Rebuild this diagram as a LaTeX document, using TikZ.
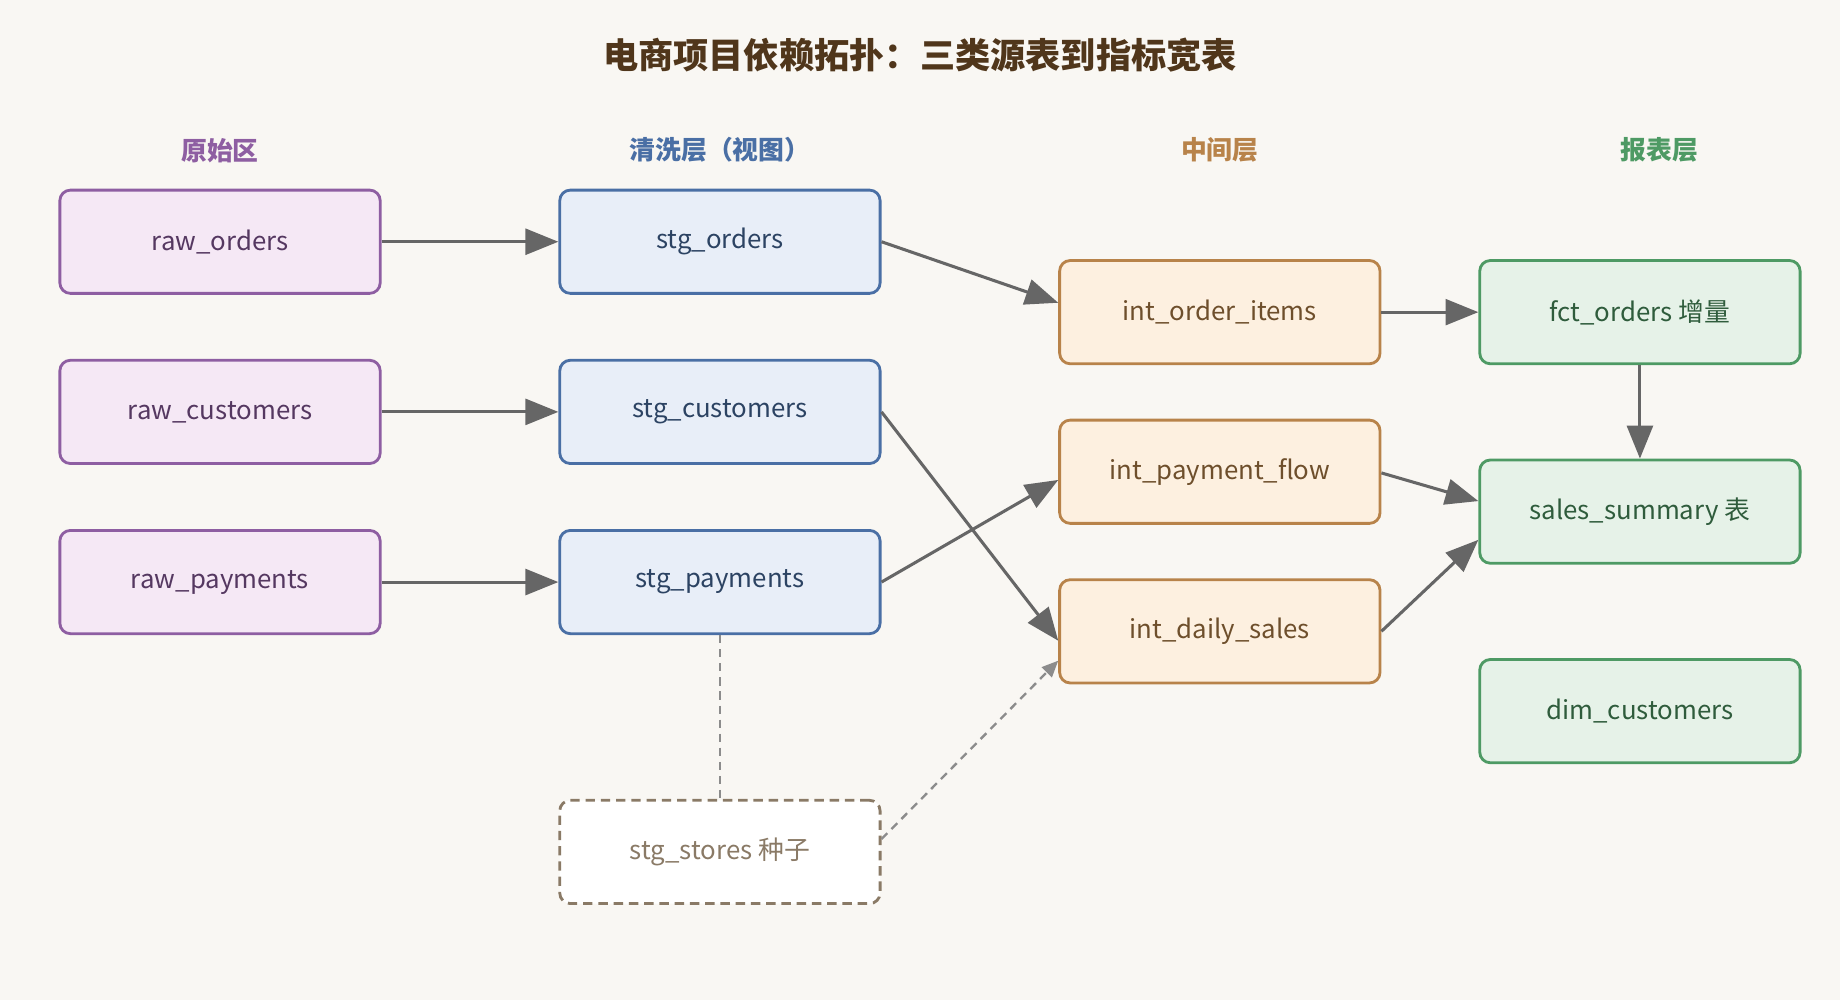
\documentclass[tikz,border=0pt]{standalone}
\usepackage{fontspec}
\setmainfont{Noto Sans CJK SC}
\usetikzlibrary{positioning,arrows.meta}
\definecolor{bgc}{HTML}{F9F7F3}
\definecolor{rawc}{HTML}{8E5EA2}\definecolor{rawf}{HTML}{F5E8F5}
\definecolor{stgc}{HTML}{4A6FA5}\definecolor{stgf}{HTML}{E8EEF8}
\definecolor{intc}{HTML}{B8834A}\definecolor{intf}{HTML}{FDF0E0}
\definecolor{rptc}{HTML}{4E9A64}\definecolor{rptf}{HTML}{E6F2E8}
\definecolor{seedc}{HTML}{8A7A66}
\tikzset{
x=1pt, y=-1pt,
box/.style={draw, line width=2.4pt, rounded corners=9pt, minimum width=273pt, minimum height=88pt, font=\fontsize{22}{26}\selectfont},
raw/.style={box, draw=rawc, fill=rawf, text=rawc!60!black},
stg/.style={box, draw=stgc, fill=stgf, text=stgc!60!black},
int/.style={box, draw=intc, fill=intf, text=intc!60!black},
rpt/.style={box, draw=rptc, fill=rptf, text=rptc!60!black},
seed/.style={box, draw=seedc, fill=white, dashed, dash pattern=on 8pt off 5pt, text=seedc},
head/.style={font=\fontsize{22}{26}\selectfont\bfseries},
link/.style={-{Triangle[length=28pt,width=22pt]}, draw=black!60, line width=2.6pt},
dep/.style={draw=black!45, line width=2pt, dash pattern=on 7pt off 5pt},
}
\begin{document}
\begin{tikzpicture}
\fill[bgc] (0,0) rectangle (1568,852);
\node[font=\fontsize{30}{34}\selectfont\bfseries, text=black!30!brown!60!black] (title) at (784,47) {电商项目依赖拓扑：三类源表到指标宽表};
\node[head, text=rawc] (h1) at (187.5,128) {原始区};
\node[head, text=stgc] (h2) at (613.5,128) {清洗层（视图）};
\node[head, text=intc] (h3) at (1039.5,128) {中间层};
\node[head, text=rptc] (h4) at (1414,128) {报表层};

\node[raw] (ro) at (187.5,206) {raw\_orders};
\node[raw] (rc) at (187.5,351) {raw\_customers};
\node[raw] (rp) at (187.5,496) {raw\_payments};

\node[stg] (so) at (613.5,206) {stg\_orders};
\node[stg] (sc) at (613.5,351) {stg\_customers};
\node[stg] (sp) at (613.5,496) {stg\_payments};
\node[seed] (ss) at (613.5,726) {stg\_stores 种子};

\node[int] (ioi) at (1039.5,266) {int\_order\_items};
\node[int] (ipf) at (1039.5,402) {int\_payment\_flow};
\node[int] (ids) at (1039.5,538) {int\_daily\_sales};

\node[rpt] (fo) at (1397.5,266) {fct\_orders 增量};
\node[rpt] (sa) at (1397.5,436) {sales\_summary 表};
\node[rpt] (dc) at (1397.5,606) {dim\_customers};

\draw[link] (ro) -- (so);
\draw[link] (rc) -- (sc);
\draw[link] (rp) -- (sp);
\draw[link] (so.east) -- (ioi.west |- 0,258);
\draw[link] (sc.east) -- (ids.west |- 0,546);
\draw[link] (sp.east) -- (ipf.west |- 0,409);
\draw[dep] (sp.south) -- (ss.north);
\draw[dep, -{Triangle[length=14pt,width=12pt]}] (ss.east |- 0,715) -- (ids.west |- 0,563);
\draw[link] (ioi) -- (fo);
\draw[link] (fo) -- (sa);
\draw[link] (ipf.east |- 0,403) -- (sa.west |- 0,427);
\draw[link] (ids.east) -- (sa.west |- 0,460);
\end{tikzpicture}
\end{document}
